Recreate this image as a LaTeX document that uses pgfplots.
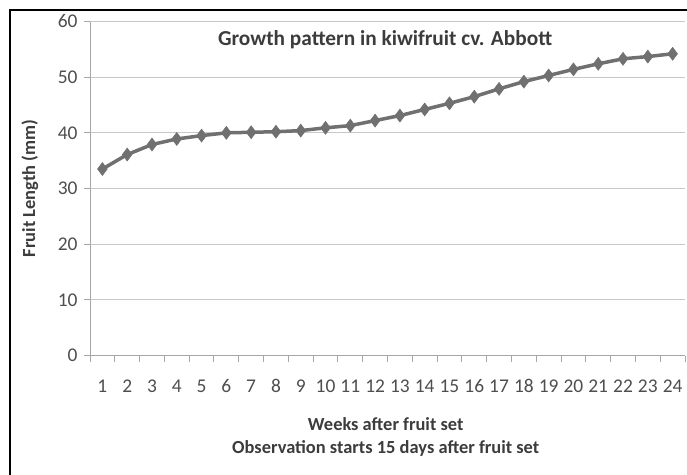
\documentclass[border=0pt]{standalone}
\usepackage{pgfplots}
\pgfplotsset{compat=1.18}
\usepackage{fontspec}
\setmainfont{Carlito}
\definecolor{linegray}{HTML}{707070}
\definecolor{gridgray}{HTML}{C8C8C8}
\definecolor{axisgray}{HTML}{A6A6A6}
\definecolor{txtgray}{HTML}{3C3C3C}
\definecolor{ticktxt}{HTML}{4E4E4E}
\begin{document}
\begin{tikzpicture}[x=1bp,y=1bp]
\useasboundingbox (0,0) rectangle (687,-475);
\fill[white] (0,0) rectangle (687,-475);
\draw[black,line width=1.4bp] (10,-475) -- (10,-10) -- (687,-10);
\begin{axis}[
  at={(90bp,-355.5bp)}, anchor=south west,
  scale only axis, width=595bp, height=334bp,
  xmin=0.5, xmax=24.5, ymin=0, ymax=60,
  axis lines=left, axis line style={axisgray, line width=1bp, -},
  xtick={1,...,24}, major x tick style={draw=none},
  minor xtick={0.5,1.5,...,24.5}, minor x tick style={axisgray, line width=1bp},
  minor tick length=6bp,
  ytick={0,10,...,60}, major y tick style={axisgray, line width=1bp},
  major tick length=6bp, tick align=outside,
  ymajorgrids, grid style={gridgray, line width=1.3bp},
  tick label style={font=\fontsize{19.5}{21}\selectfont, text=ticktxt},
  /pgf/number format/assume math mode=true,
  xticklabel style={yshift=-14bp, text height=13bp, text depth=0bp},
  yticklabel style={xshift=-3bp},
  xlabel={Weeks after fruit set\\Observation starts 15 days after fruit set},
  xlabel style={font=\bfseries\fontsize{18.5}{23}\selectfont, text=txtgray, align=center,
    at={(axis description cs:0.497,-0.244)}, anchor=center},
  ylabel={Fruit Length (mm)},
  ylabel style={font=\bfseries\fontsize{18.5}{20}\selectfont, text=txtgray,
    at={(axis description cs:-0.101,0.5)}, anchor=center},
  clip=false,
]
\addplot[linegray, line width=3.5bp, mark=diamond*, mark size=6.5bp,
  mark options={fill=linegray, draw=linegray, line width=0.5bp}] coordinates {
(1,33.5) (2,36.1) (3,37.9) (4,38.9) (5,39.5) (6,40.0) (7,40.1) (8,40.2)
(9,40.4) (10,40.9) (11,41.3) (12,42.2) (13,43.1) (14,44.2) (15,45.3) (16,46.5)
(17,47.9) (18,49.2) (19,50.3) (20,51.4) (21,52.4) (22,53.3) (23,53.7) (24,54.2)
};
\node[font=\bfseries\fontsize{21.4}{23}\selectfont, text=txtgray] at (rel axis cs:0.496,0.945) {Growth pattern in kiwifruit cv. Abbott};
\end{axis}
\end{tikzpicture}
\end{document}
